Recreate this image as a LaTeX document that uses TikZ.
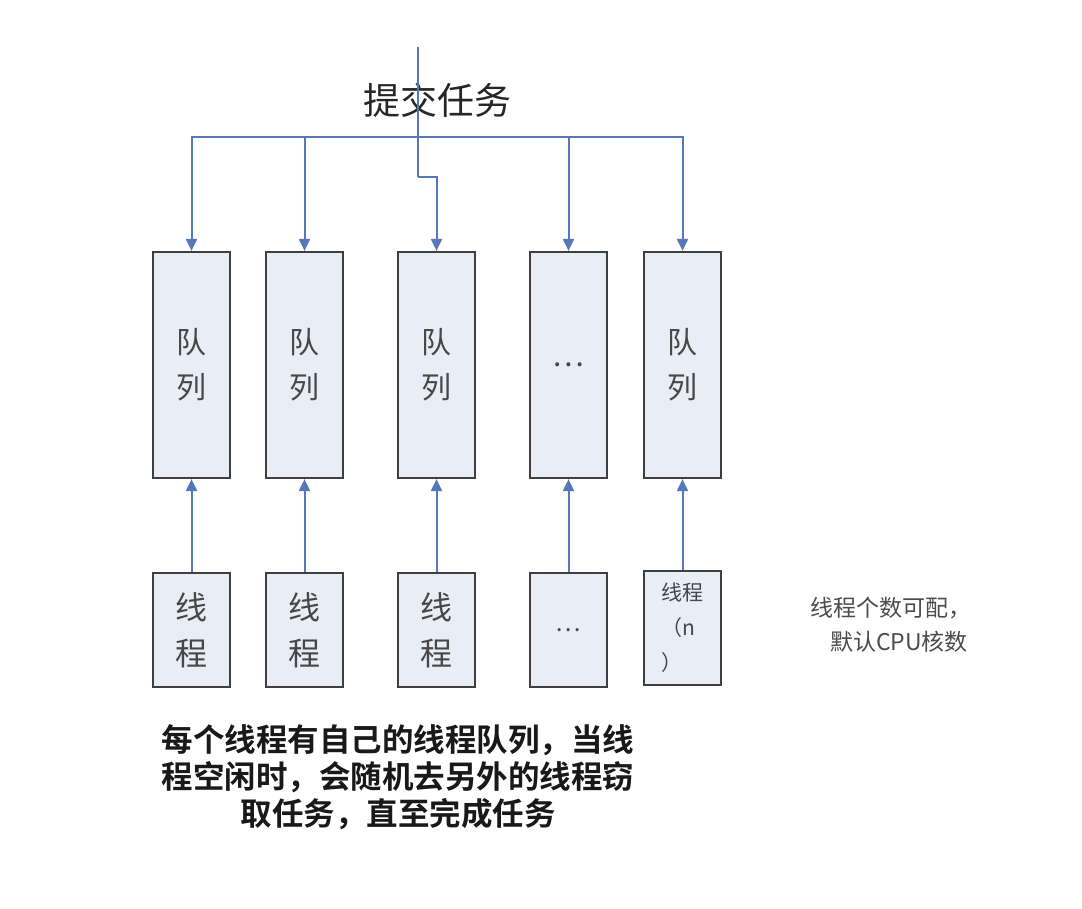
\documentclass[tikz,border=0pt]{standalone}
\usepackage{fontspec}
\newfontfamily\cjk[BoldFont={Noto Sans CJK SC Bold}]{Noto Sans CJK SC}
\usetikzlibrary{arrows.meta}
\definecolor{boxc}{HTML}{3F3F3F}
\definecolor{fillc}{HTML}{E9EDF6}
\definecolor{linec}{HTML}{5677B8}
\tikzset{
  qbox/.style={draw=boxc, fill=fillc, line width=2.2pt, minimum width=77pt, minimum height=226pt, inner sep=0pt, align=center, font=\fontsize{30}{45}\selectfont\cjk, text=black!72},
  tbox/.style={draw=boxc, fill=fillc, line width=2.2pt, minimum width=77pt, minimum height=114pt, inner sep=0pt, align=center, font=\fontsize{32}{46}\selectfont\cjk, text=black!72},
  conn/.style={draw=linec, line width=2pt, -{Triangle[width=11pt,length=12pt]}},
  plain/.style={draw=linec, line width=2pt}
}
\begin{document}
\begin{tikzpicture}[x=1pt,y=-1pt]
\path[use as bounding box, fill=white] (0,0) rectangle (1082,908);
% queues
\node[qbox] (q1) at (191.5,365) {队\\列};
\node[qbox] (q2) at (304.5,365) {队\\列};
\node[qbox] (q3) at (436.5,365) {队\\列};
\node[qbox] (q4) at (568.5,365) {…};
\node[qbox] (q5) at (682.5,365) {队\\列};
% threads
\node[tbox] (t1) at (191.5,630) {线\\程};
\node[tbox] (t2) at (304.5,630) {线\\程};
\node[tbox] (t3) at (436.5,630) {线\\程};
\node[tbox] (t4) at (568.5,630) {\fontsize{24}{30}\selectfont …};
\node[tbox, font=\fontsize{21}{35}\selectfont\cjk, align=left] (t5) at (682.5,628) {线程\\（n\\）};
% title
\node[font=\fontsize{37}{40}\selectfont\cjk, text=black!85] (title) at (437,100) {提交任务};
% top connectors
\coordinate (top) at (418,47);
\coordinate (bus) at (418,137);
\coordinate (jog) at (418,177);
\draw[plain] (top) -- (jog);
\draw[conn] (jog) -| (q3.north);
\draw[conn] (bus) -| (q1.north);
\draw[conn] (bus) -| (q2.north);
\draw[conn] (bus) -| (q4.north);
\draw[conn] (bus) -| (q5.north);
% thread to queue
\draw[conn] (t1) -- (q1);
\draw[conn] (t2) -- (q2);
\draw[conn] (t3) -- (q3);
\draw[conn] (t4) -- (q4);
\draw[conn] (t5) -- (q5);
% side note
\node[font=\fontsize{23}{34}\selectfont\cjk, text=black!70, align=center] (note) at (891,625) {线程个数可配，\\\hspace*{0.7em}默认CPU核数};
% bottom text
\node[font=\fontsize{31.5}{37}\selectfont\cjk\bfseries, text=black!90, align=center] (desc) at (398,777) {每个线程有自己的线程队列，当线\\程空闲时，会随机去另外的线程窃\\取任务，直至完成任务};
\end{tikzpicture}
\end{document}
